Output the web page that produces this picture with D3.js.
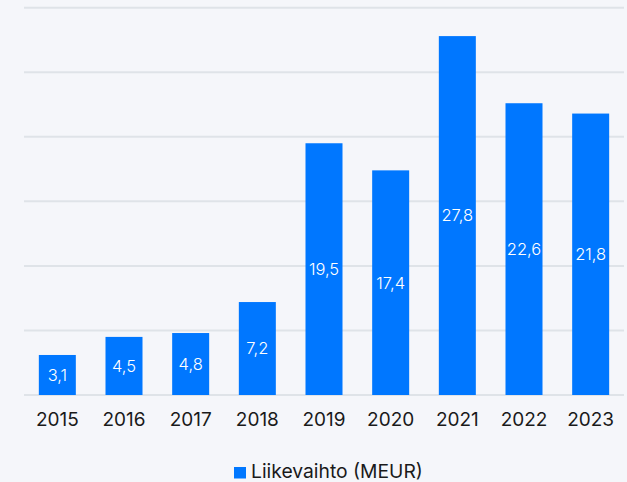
<!DOCTYPE html>
<html>
<head>
<meta charset="utf-8">
<script src="https://cdn.jsdelivr.net/npm/d3@7"></script>
<style>
  html, body { margin: 0; padding: 0; background: #f5f6fa; }
  svg { display: block; font-family: "Inter", "Lato", sans-serif; }
</style>
</head>
<body>
<svg id="chart" width="627" height="482"></svg>
<script>
const years = ["2015", "2016", "2017", "2018", "2019", "2020", "2021", "2022", "2023"];
const revenue = [3.1, 4.5, 4.8, 7.2, 19.5, 17.4, 27.8, 22.6, 21.8];
const gridTicks = [0, 5, 10, 15, 20, 25, 30];
const seriesName = "Liikevaihto (MEUR)";

const svg = d3.select("#chart");
const W = 627, H = 482;
const plot = { left: 24, right: 624, top: 7.7, bottom: 395 };

svg.append("rect").attr("width", W).attr("height", H).attr("fill", "#f5f6fa");

const x = d3.scaleBand().domain(years).range([plot.left, plot.right]).paddingInner(0.445).paddingOuter(0.2225);
const y = d3.scaleLinear().domain([0, 30]).range([plot.bottom, plot.top]);

const fmt = v => d3.format(".1f")(v).replace(".", ",");

// horizontal grid
svg.append("g").selectAll("line").data(gridTicks).join("line")
  .attr("x1", plot.left).attr("x2", plot.right)
  .attr("y1", d => y(d)).attr("y2", d => y(d))
  .attr("stroke", "#dfe3e8").attr("stroke-width", 2);

// bars
svg.append("g").selectAll("rect").data(revenue).join("rect")
  .attr("x", (d, i) => x(years[i]))
  .attr("y", d => y(d))
  .attr("width", x.bandwidth())
  .attr("height", d => y(0) - y(d))
  .attr("fill", "#0077ff");

// value labels centred inside bars
svg.append("g").selectAll("text").data(revenue).join("text")
  .attr("x", (d, i) => x(years[i]) + x.bandwidth() / 2)
  .attr("y", d => (y(d) + y(0)) / 2)
  .attr("dy", "0.36em")
  .attr("text-anchor", "middle")
  .attr("fill", "#ffffff")
  .attr("font-size", 16.5)
  .attr("font-weight", 300)
  .text(fmt);

// category axis
const xAxis = svg.append("g").attr("transform", `translate(0,${plot.bottom})`)
  .call(d3.axisBottom(x).tickSize(0).tickPadding(18));
xAxis.select(".domain").remove();
xAxis.selectAll("text").attr("font-size", 19).attr("fill", "#1a1a1a")
  .attr("font-family", "Inter, Lato, sans-serif");

// legend
const legend = svg.append("g").attr("transform", "translate(234,467)");
legend.append("rect").attr("width", 12).attr("height", 11.5).attr("fill", "#0077ff");
legend.append("text").attr("x", 17).attr("y", 11)
  .attr("font-size", 19.3).attr("fill", "#1a1a1a").text(seriesName);
</script>
</body>
</html>
